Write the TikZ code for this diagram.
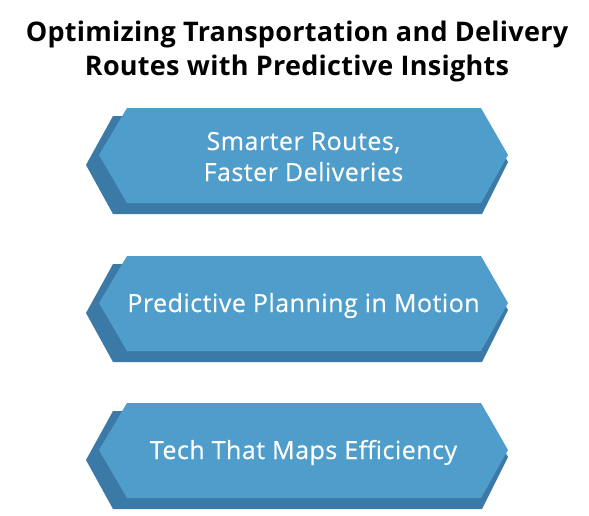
\documentclass[tikz,border=0pt]{standalone}
\usepackage{fontspec}
\setmainfont{Open Sans}
\newfontfamily\boxfont[LetterSpace=2,FakeBold=0.4]{Open Sans}
\newfontfamily\titlefont[LetterSpace=1]{Open Sans}
\definecolor{front}{HTML}{4F9DCA}
\definecolor{shade}{HTML}{3B7AA7}
\tikzset{
  frontfill/.style={fill=front},
  shadefill/.style={fill=shade},
  boxtext/.style={text=white, font=\boxfont\fontsize{25}{31}\selectfont, inner sep=0pt, anchor=base},
  titletext/.style={text=black, font=\titlefont\fontsize{27}{34}\selectfont\bfseries, inner sep=0pt, anchor=base}
}
\begin{document}
\begin{tikzpicture}[x=1pt,y=-1pt]
\useasboundingbox (0,0) rectangle (589,515);
\node[titletext] (title1) at (297,41) {Optimizing Transportation and Delivery};
\node[titletext] (title2) at (297,75) {Routes with Predictive Insights};
\foreach \T/\n in {108/1,256/2,403/3}{
  \fill[shadefill] (86,\T+57) -- (113,\T+8) -- (482,\T+8) -- (508,\T+54) -- (482,\T+106) -- (113,\T+106) -- cycle;
  \fill[frontfill] (99,\T+47) -- (127,\T) -- (481,\T) -- (508,\T+47) -- (481,\T+95) -- (127,\T+95) -- cycle;
}
\node[boxtext] (b1a) at (303.5,150) {Smarter Routes,};
\node[boxtext] (b1b) at (303.5,181) {Faster Deliveries};
\node[boxtext] (b2) at (303.5,312) {Predictive Planning in Motion};
\node[boxtext] (b3) at (303.5,459) {Tech That Maps Efficiency};
\end{tikzpicture}
\end{document}
